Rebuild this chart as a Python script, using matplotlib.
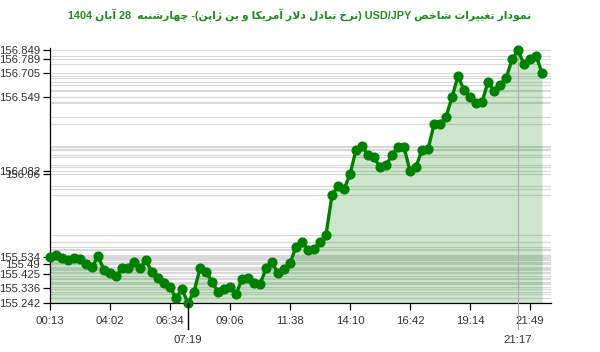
import re
import numpy as np
import matplotlib
matplotlib.use("Agg")
import matplotlib.pyplot as plt
from matplotlib.transforms import blended_transform_factory

# ---------------- data ----------------
values = [
    155.534, 155.548, 155.525, 155.515, 155.525, 155.519, 155.487, 155.468, 155.542, 155.451,
    155.434, 155.413, 155.462, 155.462, 155.500, 155.462, 155.515, 155.437, 155.399, 155.371,
    155.341, 155.275, 155.329, 155.242, 155.313, 155.462, 155.440, 155.377, 155.313, 155.329,
    155.341, 155.299, 155.392, 155.399, 155.367, 155.360, 155.462, 155.500, 155.430, 155.456,
    155.494, 155.599, 155.631, 155.578, 155.585, 155.631, 155.674, 155.928, 155.985, 155.964,
    156.060, 156.214, 156.239, 156.182, 156.167, 156.104, 156.118, 156.182, 156.231, 156.231,
    156.082, 156.108, 156.214, 156.218, 156.377, 156.377, 156.425, 156.549, 156.684, 156.595,
    156.549, 156.510, 156.517, 156.648, 156.590, 156.627, 156.669, 156.789, 156.849, 156.758,
    156.789, 156.813, 156.705,
]
x_tick_idx = [0, 10, 20, 30, 40, 50, 60, 70, 80]
x_tick_labels = ["00:13", "04:02", "06:34", "09:06", "11:38", "14:10", "16:42", "19:14", "21:49"]
min_time_label = "07:19"
max_time_label = "21:17"
y_tick_values = [156.849, 156.789, 156.705, 156.549, 156.082, 156.06,
                 155.534, 155.49, 155.425, 155.336, 155.242]
y_tick_labels = ["156.849", "156.789", "156.705", "156.549", "156.082", "156.06",
                 "155.534", "155.49", "155.425", "155.336", "155.242"]
title_text = "نمودار تغییرات شاخص USD/JPY (نرخ تبادل دلار آمریکا و ین ژاپن)- چهارشنبه  28 آبان 1404"

# ------------- minimal Persian shaping / bidi (matplotlib has no text shaping) -------------
FORMS = {
    'ا': ('\uFE8D', '\uFE8E', None, None),
    'آ': ('\uFE81', '\uFE82', None, None),
    'ب': ('\uFE8F', '\uFE90', '\uFE91', '\uFE92'),
    'پ': ('\uFB56', '\uFB57', '\uFB58', '\uFB59'),
    'ت': ('\uFE95', '\uFE96', '\uFE97', '\uFE98'),
    'چ': ('\uFB7A', '\uFB7B', '\uFB7C', '\uFB7D'),
    'خ': ('\uFEA5', '\uFEA6', '\uFEA7', '\uFEA8'),
    'د': ('\uFEA9', '\uFEAA', None, None),
    'ر': ('\uFEAD', '\uFEAE', None, None),
    'ژ': ('\uFB8A', '\uFB8B', None, None),
    'ش': ('\uFEB5', '\uFEB6', '\uFEB7', '\uFEB8'),
    'ص': ('\uFEB9', '\uFEBA', '\uFEBB', '\uFEBC'),
    'غ': ('\uFECD', '\uFECE', '\uFECF', '\uFED0'),
    'ک': ('\uFB8E', '\uFB8F', '\uFB90', '\uFB91'),
    'ل': ('\uFEDD', '\uFEDE', '\uFEDF', '\uFEE0'),
    'م': ('\uFEE1', '\uFEE2', '\uFEE3', '\uFEE4'),
    'ن': ('\uFEE5', '\uFEE6', '\uFEE7', '\uFEE8'),
    'ه': ('\uFEE9', '\uFEEA', '\uFEEB', '\uFEEC'),
    'و': ('\uFEED', '\uFEEE', None, None),
    'ی': ('\uFBFC', '\uFBFD', '\uFBFE', '\uFBFF'),
}


def shape_word(word):
    toks = []
    i = 0
    while i < len(word):
        c = word[i]
        if c == 'ل' and i + 1 < len(word) and word[i + 1] in 'اآ':
            toks.append(('\uFEFB', '\uFEFC', None, None) if word[i + 1] == 'ا'
                        else ('\uFEF5', '\uFEF6', None, None))
            i += 2
        else:
            toks.append(FORMS.get(c, (c, c, None, None)))
            i += 1
    out = []
    for k, f in enumerate(toks):
        prev = k > 0 and toks[k - 1][2] is not None
        nxt = f[2] is not None and k + 1 < len(toks)
        if prev and nxt:
            g = f[3]
        elif prev:
            g = f[1]
        elif nxt:
            g = f[2]
        else:
            g = f[0]
        out.append(g)
    return ''.join(reversed(out))


def visual_rtl(text):
    tokens = re.findall(r'[\u0600-\u06FF]+|[A-Za-z0-9/.]+|.', text)
    mirror = {'(': ')', ')': '('}
    res = []
    for t in reversed(tokens):
        if re.match(r'[\u0600-\u06FF]', t):
            res.append(shape_word(t))
        else:
            res.append(mirror.get(t, t))
    return ''.join(res)


# ---------------- figure ----------------
plt.rcParams['font.family'] = ['Liberation Sans', 'DejaVu Sans']
fig = plt.figure(figsize=(6.0, 3.52), dpi=100)
ax = fig.add_axes([50 / 600, 49 / 352, 501 / 600, 255 / 352])

x = np.arange(len(values))
y = np.array(values)
ymin_v, ymax_v = 155.242, 156.862

# horizontal grid lines at every data value
for v in values:
    ax.axhline(v, color='#d9d9d9', lw=0.8, zorder=1)

ax.fill_between(x, y, ymin_v, color='#008000', alpha=0.2, lw=0, zorder=2)
ax.plot(x, y, color='#008000', lw=2.4, marker='o', markersize=6.3,
        markerfacecolor='#008000', markeredgecolor='#008000', zorder=4, clip_on=False)

ax.set_xlim(0, 83.5)
ax.set_ylim(ymin_v, ymax_v)

ax.set_yticks(y_tick_values)
ax.set_yticklabels(y_tick_labels)
ax.set_xticks(x_tick_idx)
ax.set_xticklabels(x_tick_labels)
ax.tick_params(axis='both', direction='out', length=5, width=0.9, color='black',
               labelsize=8.2, labelcolor='#333333')
ax.tick_params(axis='x', pad=4)
ax.tick_params(axis='y', pad=2)

for s in ['top', 'right']:
    ax.spines[s].set_visible(False)
for s in ['left', 'bottom']:
    ax.spines[s].set_color('black')
    ax.spines[s].set_linewidth(0.9)

trans = blended_transform_factory(ax.transData, ax.transAxes)
i_min = int(np.argmin(y))
i_max = int(np.argmax(y))
# min marker tick
ax.plot([i_min, i_min], [0, -0.1], transform=trans, color='black', lw=1.0, clip_on=False, zorder=5)
ax.text(i_min, -0.125, min_time_label, transform=trans, ha='center', va='top',
        fontsize=8.2, color='#333333')
# max crosshair line
ax.plot([i_max, i_max], [-0.1, 1.0], transform=trans, color='#aaaaaa', lw=0.8, clip_on=False, zorder=3)
ax.text(i_max, -0.125, max_time_label, transform=trans, ha='center', va='top',
        fontsize=8.2, color='#333333')

fig.text(0.5, 0.957, visual_rtl(title_text), ha='center', va='center',
         fontsize=7.85, fontweight='bold', color='#228B22',
         family=['Liberation Sans', 'DejaVu Sans'])

fig.savefig('out.png', dpi=100)
